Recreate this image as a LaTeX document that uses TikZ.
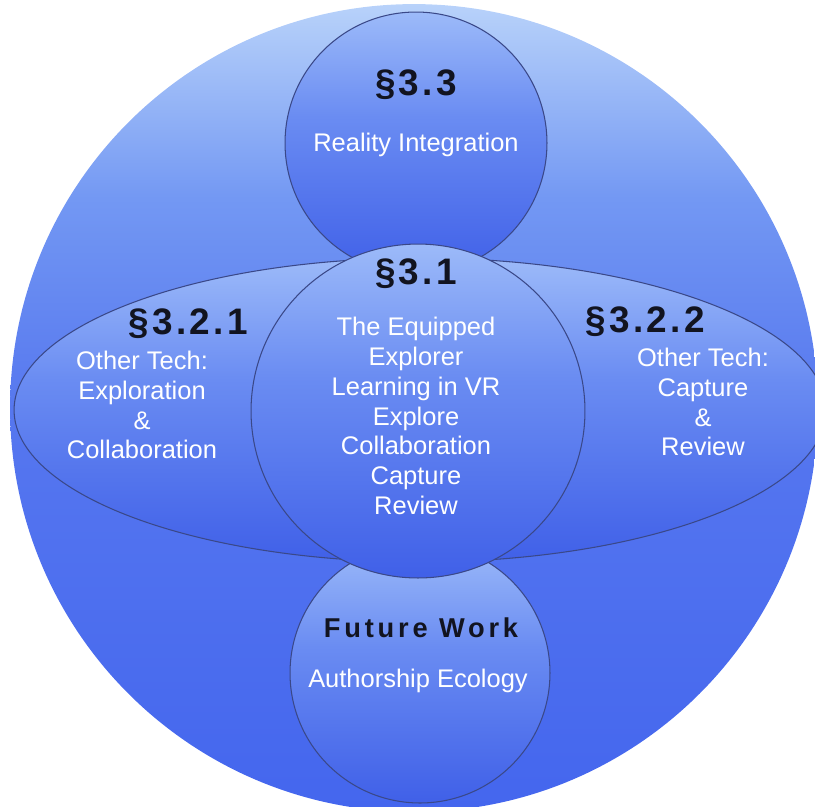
\documentclass[tikz,border=0pt]{standalone}
\usepackage{fontspec}
\setmainfont{Liberation Sans}
\newfontfamily\headfont[LetterSpace=9]{Liberation Sans}
\newfontfamily\subfont[LetterSpace=14]{Liberation Sans}
\definecolor{skytop}{HTML}{B8D2FA}
\definecolor{skyup}{HTML}{7398F3}
\definecolor{skymid}{HTML}{5677EF}
\definecolor{skybot}{HTML}{4466EE}
\definecolor{partop}{HTML}{9CBAF9}
\definecolor{parmid}{HTML}{6A8CF2}
\definecolor{parbot}{HTML}{4060E8}
\definecolor{rimc}{HTML}{3A4888}
\definecolor{headc}{HTML}{121420}
\pgfdeclareverticalshading{skyshade}{100bp}{color(0bp)=(skybot); color(25bp)=(skybot);
  color(50bp)=(skymid); color(63bp)=(skyup); color(75bp)=(skytop); color(100bp)=(skytop)}
\pgfdeclareverticalshading{partshade}{100bp}{color(0bp)=(parbot); color(25bp)=(parbot);
  color(55bp)=(parmid); color(75bp)=(partop); color(100bp)=(partop)}
\tikzset{
  part/.style={draw=rimc, line width=0.6pt, shade, shading=partshade},
  head/.style={font=\headfont\bfseries\fontsize{21}{24}\selectfont, text=headc, anchor=base},
  subhead/.style={font=\subfont\bfseries\fontsize{15.5}{18}\selectfont, text=headc, anchor=base},
  body/.style={font=\fontsize{14.5}{17}\selectfont, text=white, align=center}
}
\begin{document}
\begin{tikzpicture}[x=0.02cm,y=-0.02cm]
\useasboundingbox (0,0) rectangle (815,806);
% outer field
\shade[shading=skyshade] (414,408) circle [radius=8.08cm];
\begin{scope}
\clip (414,408) circle [radius=8.08cm];
% side lens, top and bottom circles, core
\path[part] (420,410) ellipse [x radius=8.12cm, y radius=3.04cm];
\path[part] (420,673) circle [radius=2.6cm];
\path[part] (416,143) circle [radius=2.62cm];
\path[part] (418,411) circle [radius=3.34cm];
\end{scope}

\node[head] (s33) at (416,95) {§3.3};
\node[body, anchor=base] (real) at (416,151) {Reality Integration};
\node[head] (s31) at (416,284) {§3.1};
\node[body] (core) at (416,416) {The Equipped\\Explorer\\Learning in VR\\Explore\\Collaboration\\Capture\\Review};
\node[head] (s321) at (188,334) {§3.2.1};
\node[body] (left) at (142,405) {Other Tech:\\Exploration\\\&\\Collaboration};
\node[head] (s322) at (645,332) {§3.2.2};
\node[body] (right) at (703,402) {Other Tech:\\Capture\\\&\\Review};
\node[subhead] (fut) at (421,637) {Future Work};
\node[body, anchor=base] (auth) at (418,687) {Authorship Ecology};
\end{tikzpicture}
\end{document}
